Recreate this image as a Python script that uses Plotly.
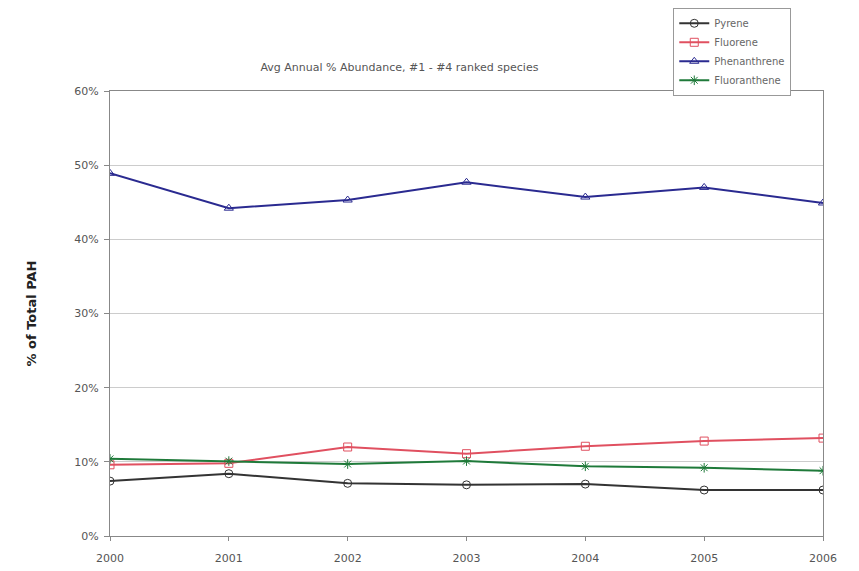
import plotly.graph_objects as go

years = [2000, 2001, 2002, 2003, 2004, 2005, 2006]
pyrene = [7.4, 8.4, 7.1, 6.9, 7.0, 6.2, 6.2]
fluorene = [9.6, 9.8, 12.0, 11.1, 12.1, 12.8, 13.2]
phenanthrene = [48.9, 44.2, 45.3, 47.7, 45.7, 47.0, 44.9]
fluoranthene = [10.4, 10.1, 9.7, 10.1, 9.4, 9.2, 8.8]

series = [
    ("Pyrene", pyrene, "#333333", "circle-open"),
    ("Fluorene", fluorene, "#e05060", "square-open"),
    ("Phenanthrene", phenanthrene, "#2a2a90", "triangle-up-open"),
    ("Fluoranthene", fluoranthene, "#1f7a3a", "asterisk-open"),
]

fig = go.Figure()
for name, vals, color, sym in series:
    fig.add_trace(go.Scatter(
        x=years, y=[v / 100 for v in vals], name=name, mode="lines+markers",
        line=dict(color=color, width=2),
        marker=dict(symbol=sym, size=8, color=color, line=dict(width=1, color=color)),
    ))

fig.update_layout(
    width=859, height=571,
    margin=dict(l=110, r=36, t=91, b=35, autoexpand=False),
    paper_bgcolor="white", plot_bgcolor="white",
    font=dict(family="DejaVu Sans", size=11, color="#555555"),
    title=dict(text="Avg Annual % Abundance, #1 - #4 ranked species",
               x=0.465, xanchor="center", y=1 - 67 / 571, yanchor="middle",
               font=dict(size=11, color="#555555")),
    showlegend=True,
    legend=dict(x=0.79, y=1.187, xanchor="left", yanchor="top",
                bordercolor="#999999", borderwidth=1, bgcolor="white",
                font=dict(size=10, color="#666666"),
                tracegroupgap=0, itemwidth=30),
    xaxis=dict(range=[2000, 2006], tickvals=years, ticktext=[str(y) for y in years],
               showgrid=False, showline=True, linecolor="#888888", linewidth=1,
               mirror=True, ticks="outside", ticklen=4, tickcolor="#888888",
               ticklabelstandoff=8, zeroline=False, automargin=False),
    yaxis=dict(range=[0, 0.6], tickvals=[0, 0.1, 0.2, 0.3, 0.4, 0.5, 0.6],
               tickformat=".0%", showgrid=True, gridcolor="#cccccc",
               showline=True, linecolor="#888888", linewidth=1, mirror=True,
               ticks="outside", ticklen=5, tickcolor="#888888", zeroline=False,
               ticklabelstandoff=3, automargin=False,
               title=dict(text="<b>% of Total PAH</b>", standoff=34,
                          font=dict(size=13, color="#222222"))),
)

fig.write_html("out.html")
